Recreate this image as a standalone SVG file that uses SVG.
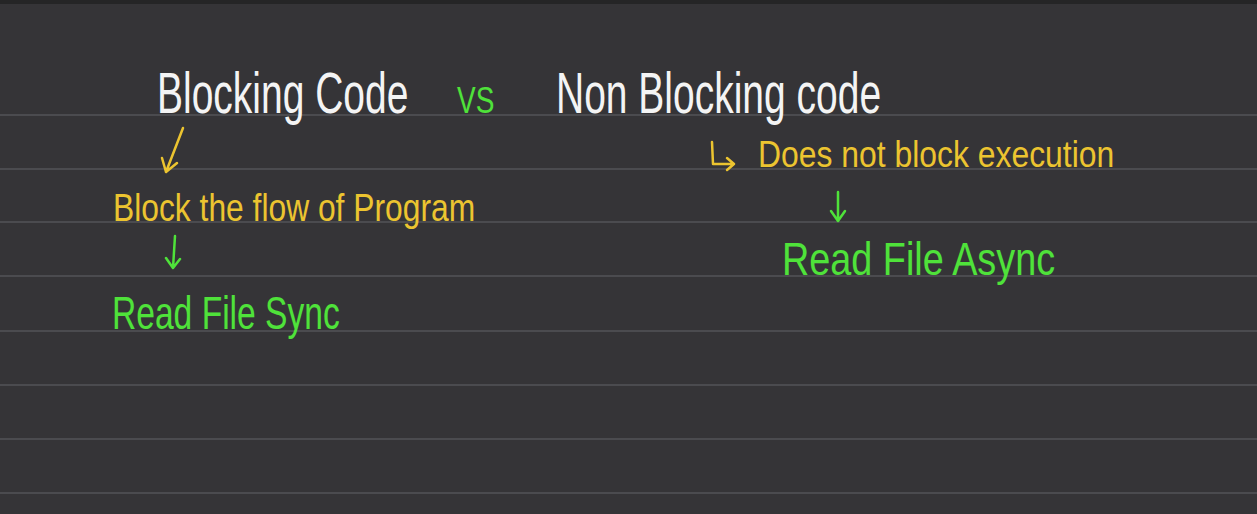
<svg xmlns="http://www.w3.org/2000/svg" width="1257" height="514" viewBox="0 0 1257 514">
  <style>
    .rule { stroke: #4b4b4f; stroke-width: 2; }
    .t { font-family: "Liberation Sans", Arial, sans-serif; font-weight: normal; }
    .white { fill: #f4f4f4; }
    .yellow { fill: #ecc430; }
    .green { fill: #4fe23a; }
    .cy { stroke: #ecc430; stroke-width: 2.5; fill: none; stroke-linecap: round; stroke-linejoin: round; }
    .cg { stroke: #4fe23a; stroke-width: 2.5; fill: none; stroke-linecap: round; stroke-linejoin: round; }
  </style>
  <rect x="0" y="0" width="1257" height="514" fill="#353437"/>
  <rect x="0" y="0" width="1257" height="4" fill="#252526"/>
  <g id="ruled-lines">
    <line class="rule" x1="0" y1="115" x2="1257" y2="115"/>
    <line class="rule" x1="0" y1="169" x2="1257" y2="169"/>
    <line class="rule" x1="0" y1="222" x2="1257" y2="222"/>
    <line class="rule" x1="0" y1="276" x2="1257" y2="276"/>
    <line class="rule" x1="0" y1="331" x2="1257" y2="331"/>
    <line class="rule" x1="0" y1="385" x2="1257" y2="385"/>
    <line class="rule" x1="0" y1="439" x2="1257" y2="439"/>
    <line class="rule" x1="0" y1="493" x2="1257" y2="493"/>
  </g>
  <g id="blocking-code" transform="translate(157,113) scale(1,1.45)">
    <text class="t white" x="0" y="0" font-size="39">Blocking Code</text>
  </g>
  <g id="vs" transform="translate(457,113) scale(1,1.3)">
    <text class="t green" x="0" y="0" font-size="28">VS</text>
  </g>
  <g id="non-blocking-code" transform="translate(556,113) scale(1,1.45)">
    <text class="t white" x="0" y="0" font-size="39">Non Blocking code</text>
  </g>
  <g id="block-flow" transform="translate(113,221) scale(1,1.2)">
    <text class="t yellow" x="0" y="0" font-size="31.8">Block the flow of Program</text>
  </g>
  <g id="read-file-sync" transform="translate(112,329) scale(1,1.35)">
    <text class="t green" x="0" y="0" font-size="33.6">Read File Sync</text>
  </g>
  <g id="does-not-block" transform="translate(758,167) scale(1,1.15)">
    <text class="t yellow" x="0" y="0" font-size="31.9">Does not block execution</text>
  </g>
  <g id="read-file-async" transform="translate(782,275) scale(1,1.22)">
    <text class="t green" x="0" y="0" font-size="37.8">Read File Async</text>
  </g>
  <g id="connectors">
    <path class="cy" d="M183,128 L166,172 M166,172 L162,158 M166,172 L177,163"/>
    <path class="cg" d="M175,236 L173,268 M173,268 L166,258 M173,268 L180,259"/>
    <path class="cy" d="M712,142 L713,164 L734,164 M734,164 L727,158 M734,164 L727,170"/>
    <path class="cg" d="M838,192 L838,221 M838,221 L831,211 M838,221 L845,211"/>
  </g>
</svg>
